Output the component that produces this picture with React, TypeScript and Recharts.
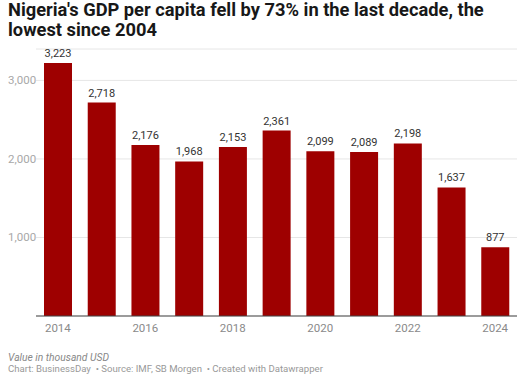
import { BarChart, Bar, XAxis, YAxis, CartesianGrid, LabelList } from "recharts";

const years = ["2014", "2015", "2016", "2017", "2018", "2019", "2020", "2021", "2022", "2023", "2024"];
const gdpPerCapita = [3223, 2718, 2176, 1968, 2153, 2361, 2099, 2089, 2198, 1637, 877];
const yTicks = [1000, 2000, 3000];

const data = years.map((year, i) => ({ year, value: gdpPerCapita[i] }));

const fmt = (v: number) => v.toLocaleString("en-US");

const YTick = (props: any) => {
  const { y, payload } = props;
  return (
    <text x={8} y={y} dy={4} textAnchor="start" fill="#a8a8a8" fontSize={11.5} fontFamily="Roboto">
      {fmt(payload.value)}
    </text>
  );
};

export default function App() {
  return (
    <div style={{ position: "absolute", left: 0, top: 0, width: 523, height: 375, overflow: "hidden", background: "#fff", fontFamily: "Roboto" }}>
      <div style={{ position: "absolute", left: 8, top: 0, width: 500, fontSize: 18.3, fontWeight: 700, lineHeight: "19.7px", color: "#181818" }}>
        Nigeria's GDP per capita fell by 73% in the last decade, the lowest since 2004
      </div>
      <div style={{ position: "absolute", top: 0, left: 0 }}>
        <BarChart width={523} height={375} data={data} margin={{ top: 49, right: 6, bottom: 39, left: 0 }} barSize={28}>
          <CartesianGrid vertical={false} stroke="#e6e6e6" />
          <YAxis
            width={36}
            domain={[0, 3400]}
            ticks={yTicks}
            axisLine={false}
            tickLine={false}
            tick={<YTick />}
          />
          <XAxis
            dataKey="year"
            height={20}
            interval={1}
            tickLine={false}
            axisLine={{ stroke: "#444", strokeWidth: 1.2 }}
            tick={{ fill: "#8a8a8a", fontSize: 11.5, fontFamily: "Roboto" }}
            tickMargin={2}
          />
          <Bar dataKey="value" fill="#9e0000" isAnimationActive={false}>
            <LabelList dataKey="value" position="top" offset={6} formatter={(v: any) => fmt(v)} fill="#333" fontSize={11} fontFamily="Roboto" />
          </Bar>
        </BarChart>
      </div>
      <div style={{ position: "absolute", left: 8, top: 351, fontSize: 10.3, fontStyle: "italic", color: "#888" }}>
        Value in thousand USD
      </div>
      <div style={{ position: "absolute", left: 8, top: 363, fontSize: 9.6, color: "#999", whiteSpace: "pre" }}>
        {"Chart: BusinessDay  • Source: IMF, SB Morgen  • Created with Datawrapper"}
      </div>
    </div>
  );
}
